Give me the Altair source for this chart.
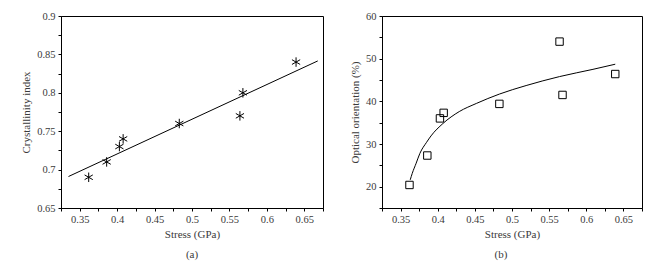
import altair as alt
import pandas as pd

# Panel (a) data
stress_a = [0.362, 0.386, 0.403, 0.408, 0.483, 0.564, 0.568, 0.639]
cryst = [0.690, 0.710, 0.730, 0.740, 0.760, 0.770, 0.800, 0.840]
fit_a_x = [0.335, 0.668]
fit_a_y = [0.691, 0.8415]

# Panel (b) data
stress_b = [0.362, 0.386, 0.403, 0.408, 0.483, 0.564, 0.568, 0.639]
orient = [20.4, 27.3, 36.0, 37.3, 39.4, 54.0, 41.5, 46.4]
fit_b_x = [0.363, 0.3657, 0.371, 0.376, 0.385, 0.391, 0.407, 0.429, 0.452, 0.483, 0.519, 0.564, 0.609, 0.639]
fit_b_y = [21.6, 23.1, 25.5, 27.8, 30.4, 31.9, 34.8, 37.6, 39.5, 41.7, 43.7, 45.8, 47.5, 48.7]

x_ticks = [0.325, 0.35, 0.375, 0.4, 0.425, 0.45, 0.475, 0.5, 0.525, 0.55, 0.575, 0.6, 0.625, 0.65, 0.675]
ya_ticks = [0.65, 0.675, 0.7, 0.725, 0.75, 0.775, 0.8, 0.825, 0.85, 0.875, 0.9]
yb_ticks = [15, 20, 25, 30, 35, 40, 45, 50, 55, 60]

FONT = "Liberation Serif"
TXT = "#3a3a3a"

pts_a = pd.DataFrame({"x": stress_a, "y": cryst})
fit_a = pd.DataFrame({"x": fit_a_x, "y": fit_a_y})
pts_b = pd.DataFrame({"x": stress_b, "y": orient})
fit_b = pd.DataFrame({"x": fit_b_x, "y": fit_b_y})

lab_x = "round(datum.value*1000) % 50 == 0 ? format(datum.value, '.2~f') : ''"
lab_ya = "round(datum.value*1000) % 50 == 0 ? format(datum.value, '.2~f') : ''"
lab_yb = "datum.value % 10 == 0 ? format(datum.value, 'd') : ''"

W, H = 262, 192


def ax(values, expr, title):
    return alt.Axis(values=values, labelExpr=expr, title=title,
                    titleFontWeight=400, titleFont=FONT, titleFontSize=11)


xa = alt.X("x:Q", scale=alt.Scale(domain=[0.325, 0.675], nice=False, zero=False),
           axis=ax(x_ticks, lab_x, "Stress (GPa)"))
ya = alt.Y("y:Q", scale=alt.Scale(domain=[0.65, 0.9], nice=False, zero=False),
           axis=ax(ya_ticks, lab_ya, "Crystallinity index"))

asterisk = "M0,-1L0,1M-0.866,-0.5L0.866,0.5M-0.866,0.5L0.866,-0.5"

a_pts = alt.Chart(pts_a).mark_point(shape=asterisk, size=90, filled=False,
                                    stroke="black", strokeWidth=1, opacity=1).encode(x=xa, y=ya)
a_line = alt.Chart(fit_a).mark_line(color="black", strokeWidth=1).encode(x=xa, y=ya)
a_cap = alt.Chart(pd.DataFrame({"t": ["(a)"]})).mark_text(
    font=FONT, fontSize=11, color=TXT, baseline="middle").encode(
    text="t:N", x=alt.value(W / 2), y=alt.value(H + 47))
panel_a = alt.layer(a_line, a_pts, a_cap).properties(width=W, height=H)

xb = alt.X("x:Q", scale=alt.Scale(domain=[0.325, 0.675], nice=False, zero=False),
           axis=ax(x_ticks, lab_x, "Stress (GPa)"))
yb = alt.Y("y:Q", scale=alt.Scale(domain=[15, 60], nice=False, zero=False),
           axis=ax(yb_ticks, lab_yb, "Optical orientation (%)"))

b_pts = alt.Chart(pts_b).mark_point(shape="square", size=55, filled=False,
                                    stroke="black", strokeWidth=1, opacity=1).encode(x=xb, y=yb)
b_line = alt.Chart(fit_b).mark_line(color="black", strokeWidth=1, interpolate="monotone").encode(x=xb, y=yb)
b_cap = alt.Chart(pd.DataFrame({"t": ["(b)"]})).mark_text(
    font=FONT, fontSize=11, color=TXT, baseline="middle").encode(
    text="t:N", x=alt.value(260 / 2 - 11), y=alt.value(H + 47))
panel_b = alt.layer(b_line, b_pts, b_cap).properties(width=260, height=H)

chart = alt.hconcat(panel_a, panel_b, spacing=59, bounds="flush").properties(
    padding={"left": 20, "top": 10, "right": 0, "bottom": 0}
).configure_view(stroke="black", strokeWidth=1).configure_axis(
    grid=False, domainColor="black", domainWidth=1, tickColor="black", tickSize=3,
    labelFont=FONT, labelFontSize=10.5, labelColor=TXT, labelPadding=3,
    titleFont=FONT, titleFontSize=11, titleFontWeight=400, titleColor=TXT,
    labelFlush=False
).configure_axisY(titlePadding=5).configure_axisX(titlePadding=4)

chart.save("out.html", embed_options={"renderer": "svg", "actions": False})
